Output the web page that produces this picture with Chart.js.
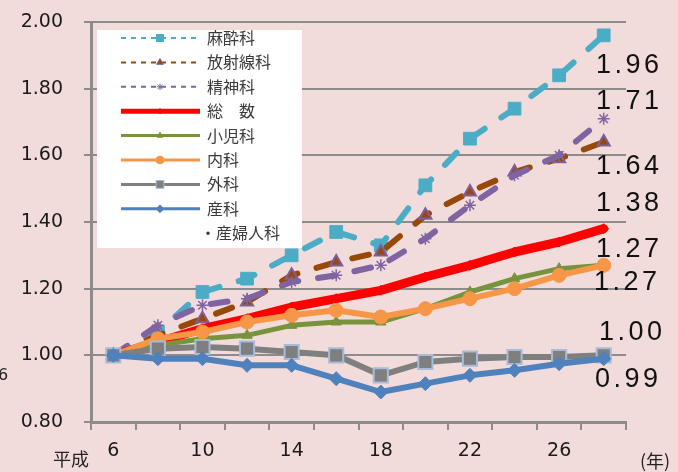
<!DOCTYPE html>
<html>
<head>
<meta charset="utf-8">
<script src="https://cdn.jsdelivr.net/npm/chart.js@4.4.1/dist/chart.umd.min.js"></script>
<style>
  html, body { margin: 0; padding: 0; background: #f2dcdb; }
  #wrap { position: relative; width: 678px; height: 472px; }
</style>
</head>
<body>
<div id="wrap"><canvas id="chart" width="678" height="472"></canvas></div>
<script>
// 平成 years (every 2 years)
const years = ["6", "8", "10", "12", "14", "16", "18", "20", "22", "24", "26", "28"];

// ratio to 平成6 (= 1.00)
const masui    = [1.00, 1.07, 1.19, 1.23, 1.30, 1.37, 1.33, 1.51, 1.65, 1.74, 1.84, 1.96];
const hoshasen = [1.00, 1.06, 1.11, 1.16, 1.24, 1.28, 1.31, 1.42, 1.49, 1.55, 1.59, 1.64];
const seishin  = [1.00, 1.09, 1.15, 1.17, 1.22, 1.24, 1.27, 1.35, 1.45, 1.54, 1.60, 1.71];
const sosu     = [1.00, 1.04, 1.08, 1.11, 1.145, 1.17, 1.195, 1.235, 1.27, 1.31, 1.34, 1.38];
const shoni    = [1.00, 1.03, 1.05, 1.06, 1.09, 1.10, 1.10, 1.14, 1.19, 1.23, 1.26, 1.27];
const naika    = [1.00, 1.05, 1.07, 1.10, 1.12, 1.135, 1.115, 1.14, 1.17, 1.20, 1.24, 1.27];
const geka     = [1.00, 1.02, 1.025, 1.02, 1.01, 1.00, 0.94, 0.98, 0.99, 0.995, 0.995, 1.00];
const sanka    = [1.00, 0.99, 0.99, 0.97, 0.97, 0.93, 0.89, 0.915, 0.94, 0.955, 0.975, 0.99];
const sanfujinka = [];

const endLabels = ["1.96", "1.71", "1.64", "1.38", "1.27", "1.27", "1.00", "0.99"];

const jpFont = '"Noto Sans CJK JP", "Noto Sans", sans-serif';
const numFont = '"DejaVu Sans", Verdana, sans-serif';
const axisGray = "#8c8c8c";

function line(label, data, color, opts) {
  return Object.assign({
    label: label,
    data: data,
    borderColor: color,
    backgroundColor: color,
    pointBackgroundColor: color,
    pointBorderColor: color,
    borderWidth: 6,
    pointBorderWidth: 1,
    tension: 0,
    borderCapStyle: "round",
    borderJoinStyle: "round",
  }, opts);
}

const datasets = [
  line("麻酔科", masui, "#4bacc6", { borderDash: [17, 20], pointStyle: "rect", pointRadius: 9 }),
  line("放射線科", hoshasen, "#984807", { borderDash: [17, 20], pointStyle: "triangle", pointRadius: 7, pointBorderColor: "#7d5fa0", pointBorderWidth: 2 }),
  line("精神科", seishin, "#8064a2", { borderDash: [17, 20], pointStyle: "star", pointRadius: 6, pointBorderWidth: 1.5 }),
  line("総　数", sosu, "#ff0000", { borderWidth: 9, pointStyle: "rectRot", pointRadius: 5 }),
  line("小児科", shoni, "#77933c", { borderWidth: 5, pointStyle: "triangle", pointRadius: 6 }),
  line("内科", naika, "#f79646", { pointStyle: "circle", pointRadius: 7 }),
  line("外科", geka, "#7f7f7f", { pointStyle: "rect", pointRadius: 10, pointBorderColor: "#a6bcd8", pointBorderWidth: 2 }),
  line("産科", sanka, "#4f81bd", { pointStyle: "rectRot", pointRadius: 7 }),
  line("産婦人科", sanfujinka, "#333333", { pointRadius: 0 }),
];
// later series are drawn on top
datasets.forEach((d, i) => { d.order = datasets.length - i; });

const legendBox = {
  id: "legendBox",
  afterDatasetsDraw(chart) {
    const ctx = chart.ctx;
    ctx.save();
    ctx.fillStyle = "#ffffff";
    ctx.fillRect(97, 30, 205, 218);
    chart.data.datasets.forEach((ds, i) => {
      const y = 38 + i * 24.4;
      ctx.font = "16px " + jpFont;
      ctx.fillStyle = "#3a3a3a";
      ctx.textBaseline = "middle";
      ctx.textAlign = "left";
      if (ds.data.length === 0) {
        ctx.fillText("・" + ds.label, 200, y);
        return;
      }
      ctx.strokeStyle = ds.borderColor;
      ctx.lineWidth = ds.borderDash ? 2 : ds.borderWidth > 6 ? 5 : 3;
      ctx.setLineDash(ds.borderDash ? [5, 5] : []);
      ctx.beginPath();
      ctx.moveTo(121, y);
      ctx.lineTo(200, y);
      ctx.stroke();
      ctx.setLineDash([]);
      ctx.fillStyle = ds.pointBackgroundColor;
      ctx.strokeStyle = ds.pointBorderColor;
      ctx.lineWidth = 1;
      Chart.helpers.drawPoint(ctx, {
        pointStyle: ds.pointStyle,
        radius: ds.pointRadius * 0.55,
        rotation: 0,
        borderWidth: 1,
      }, 160, y);
      ctx.fillStyle = "#3a3a3a";
      ctx.fillText(ds.label, 207, y);
    });
    ctx.restore();
  },
};

const extraText = {
  id: "extraText",
  afterDraw(chart) {
    const ctx = chart.ctx;
    ctx.save();

    // short tick marks left of the y axis
    const ys = chart.scales.y;
    ctx.strokeStyle = axisGray;
    ctx.lineWidth = 2;
    ys.ticks.forEach((t, i) => {
      const py = Math.round(ys.getPixelForTick(i));
      ctx.beginPath();
      ctx.moveTo(chart.chartArea.left - 7, py);
      ctx.lineTo(chart.chartArea.left, py);
      ctx.stroke();
    });

    ctx.fillStyle = "#111111";
    ctx.textBaseline = "middle";
    ctx.font = "27px \"Liberation Sans\", Arial, sans-serif";
    const ly = [66, 102, 167, 204, 250, 283, 333, 380];
    const lx = [596, 596, 596, 596, 596, 594, 599, 595];
    endLabels.forEach((t, i) => {
      let x = lx[i];
      for (const ch of t) {
        ctx.fillText(ch, x, ly[i]);
        x += ctx.measureText(ch).width + 3.5;
      }
    });
    ctx.fillStyle = "#222222";
    ctx.font = "18px " + jpFont;
    ctx.fillText("平成", 53, 459);
    ctx.fillText("(年)", 640, 461);
    ctx.font = "16px " + numFont;
    ctx.fillText("6", -2, 376);
    ctx.restore();
  },
};

new Chart(document.getElementById("chart"), {
  type: "line",
  data: { labels: years, datasets: datasets },
  options: {
    responsive: false,
    animation: false,
    layout: { padding: { left: 0, top: 22, right: 52, bottom: 0 } },
    plugins: { legend: { display: false }, tooltip: { enabled: false } },
    scales: {
      x: {
        offset: true,
        afterFit: (s) => { s.height = 50; },
        grid: { offset: true, drawOnChartArea: false, tickLength: 8, color: axisGray, lineWidth: 2 },
        border: { color: axisGray, width: 3 },
        ticks: {
          autoSkip: false,
          maxRotation: 0,
          padding: 10,
          color: "#1a1a1a",
          font: { family: numFont, size: 19 },
          callback: (v, i) => (i % 2 === 0 ? years[i] : ""),
        },
      },
      y: {
        min: 0.8,
        max: 2.0,
        afterFit: (s) => { s.width = 91; },
        // tick slot only reserves room for the labels; marks are drawn by the plugin
        grid: { color: axisGray, lineWidth: 2, tickLength: 28, tickColor: "rgba(0,0,0,0)" },
        border: { color: axisGray, width: 3 },
        ticks: {
          stepSize: 0.2,
          padding: 0,
          color: "#1a1a1a",
          font: { family: numFont, size: 19 },
          callback: (v) => v.toFixed(2),
        },
      },
    },
  },
  plugins: [legendBox, extraText],
});
</script>
</body>
</html>
